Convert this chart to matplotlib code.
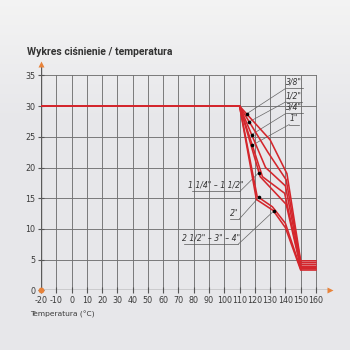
import numpy as np
import matplotlib
matplotlib.use("Agg")
import matplotlib.pyplot as plt

# pressure / temperature ratings per valve size
temp_ticks = list(range(-20, 161, 10))
press_ticks = list(range(0, 36, 5))

sizes = ['3/8"', '1/2"', '3/4"', '1"', '1 1/4" – 1 1/2"', '2"', '2 1/2" – 3" – 4"']
curve_t = [
    [-20, 110, 130.0, 141.0, 150, 160],
    [-20, 110, 128.5, 140.5, 150, 160],
    [-20, 110, 127.0, 140.0, 150, 160],
    [-20, 110, 125.0, 139.5, 150, 160],
    [-20, 110, 123.5, 140.5, 150, 160],
    [-20, 110, 121.5, 131.5, 140, 150, 160],
    [-20, 110, 121.0, 132.0, 140, 150, 160],
]
curve_p = [
    [30, 30, 24.5, 19.0, 4.8, 4.8],
    [30, 30, 22.5, 18.0, 4.5, 4.5],
    [30, 30, 20.0, 17.0, 4.2, 4.2],
    [30, 30, 18.5, 15.8, 3.9, 3.9],
    [30, 30, 18.5, 14.0, 3.7, 3.7],
    [30, 30, 15.3, 13.6, 10.9, 3.5, 3.5],
    [30, 30, 14.8, 13.0, 10.2, 3.3, 3.3],
]
# temperature where each size's leader line meets its curve
dot_t = [114.6, 116.3, 117.9, 118.3, 122.7, 122.5, 132.3]

RED = "#d4262c"
GRID = "#727272"
ORANGE = "#e8833a"
BG = "#e7e7ea"

fig = plt.figure(figsize=(3.5, 3.5), dpi=100, facecolor=BG)

# light band at the top of the page
bg = fig.add_axes([0, 0, 1, 1], zorder=-5)
grad = np.linspace(0, 1, 350)[:, None]
grad = np.clip(grad / 0.35, 0, 1)
top = np.array([0.955, 0.955, 0.955])
bot = np.array([0.906, 0.906, 0.918])
img = top + (bot - top) * grad[..., None]
bg.imshow(img, aspect="auto", extent=[0, 1, 0, 1], origin="upper")
bg.axis("off")

ax = fig.add_axes([0.1171, 0.1706, 0.838, 0.6578])
ax.set_facecolor("none")
ax.set_xlim(-20, 172)
ax.set_ylim(0, 37.5)
for s in ax.spines.values():
    s.set_visible(False)

# grid
for t in temp_ticks[1:]:
    ax.plot([t, t], [0, 35], color=GRID, lw=0.65, zorder=1)
for p in press_ticks[1:]:
    ax.plot([-20, 160], [p, p], color=GRID, lw=0.65, zorder=1)

# axes with arrows
ax.plot([-20, -20], [0, 36.3], color="#5a5a5a", lw=1.0, zorder=2)
ax.plot([-20, 168], [0, 0], color="#5a5a5a", lw=1.0, zorder=2)
ax.plot([-20], [36.9], marker="^", ms=4.5, color=ORANGE, mec="none", clip_on=False, zorder=3)
ax.plot([169.5], [0], marker=">", ms=4.5, color=ORANGE, mec="none", clip_on=False, zorder=3)
ax.plot([-20], [0], marker="o", ms=4.2, color=ORANGE, mec="none", clip_on=False, zorder=4)

ax.set_xticks(temp_ticks)
ax.set_xticklabels([str(t) for t in temp_ticks])
ax.set_yticks(press_ticks)
ax.set_yticklabels([str(p) for p in press_ticks])
ax.tick_params(direction="inout", length=5, width=0.8, color="#555555",
               labelsize=5.8, labelcolor="#3a3a3a", pad=1.5)

# rating curves
for t, p in zip(curve_t, curve_p):
    ax.plot(t, p, color=RED, lw=1.15, solid_joinstyle="miter", zorder=5)

# labels with underline and leader line to the curve
label_pos = [
    (140.3, 151.3, 32.9, "right"),
    (140.3, 150.6, 30.7, "right"),
    (140.3, 151.3, 28.8, "right"),
    (142.5, 149.0, 27.0, "right"),
    (78.6, 110.2, 16.1, "left"),
    (103.7, 109.8, 11.6, "left"),
    (73.6, 109.1, 7.5, "left"),
]
for i, (x0, x1, y, side) in enumerate(label_pos):
    dt = dot_t[i]
    dp = np.interp(dt, curve_t[i], curve_p[i])
    ax.plot([x0, x1], [y, y], color="#555555", lw=0.5, zorder=3)
    ax.text((x0 + x1) / 2, y + 0.25, sizes[i], ha="center", va="bottom",
            fontsize=5.6, style="italic", color="#333333", zorder=6)
    sx = x0 if side == "right" else x1
    ax.plot([sx, dt], [y, dp], color="#666666", lw=0.5, zorder=3)
    ax.plot([dt], [dp], marker="o", ms=2.6, color="black", mec="none", zorder=7)

fig.text(0.077, 0.852, "Wykres ciśnienie / temperatura", fontsize=7.5,
         fontweight="bold", color="#333333", va="center",
         family=["Liberation Sans Narrow", "Roboto"])
fig.text(0.086, 0.103, "Temperatura (°C)", fontsize=5.4, color="#3a3a3a", va="center")

fig.savefig("out.png", dpi=100, facecolor=BG)
